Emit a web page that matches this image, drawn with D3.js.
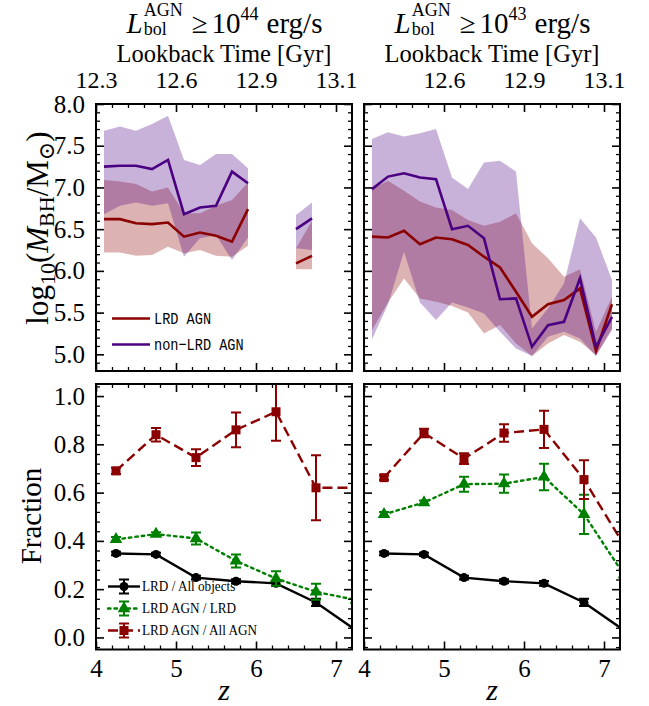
<!DOCTYPE html>
<html>
<head>
<meta charset="utf-8">
<script src="https://cdn.jsdelivr.net/npm/d3@7"></script>
<style>
  body { margin: 0; background: #fff; }
  svg text { font-family: "Liberation Serif", "Times New Roman", "DejaVu Serif", serif; fill: #000; }
  svg text.mono { font-family: "Liberation Mono", "DejaVu Sans Mono", monospace; }
</style>
</head>
<body>
<svg id="chart" width="649" height="706"></svg>
<script>
// ---------- black-hole mass panels: bin centres in redshift ----------
const zMass = [4.1, 4.3, 4.5, 4.7, 4.9, 5.1, 5.3, 5.5, 5.7, 5.9, 6.1, 6.3, 6.5, 6.7, 6.9, 7.1];

// L_bol >= 1e44 erg/s : median and 16-84 percentile range of log10 M_BH
const lrdMed44 = [6.62, 6.62, 6.57, 6.56, 6.58, 6.41, 6.46, 6.42, 6.35, 6.74, null, null, 6.09, 6.18, null, null];
const lrdHi44  = [7.09, 7.07, 7.04, 6.95, 7.00, 6.69, 6.69, 6.78, 6.85, 7.06, null, null, 6.27, 6.60, null, null];
const lrdLo44  = [6.22, 6.22, 6.18, 6.19, 6.29, 6.21, 6.25, 6.18, 6.17, 6.30, null, null, 6.02, 6.02, null, null];
const nonMed44 = [7.25, 7.26, 7.26, 7.22, 7.33, 6.68, 6.76, 6.78, 7.19, 7.05, null, null, 6.50, 6.63, null, null];
const nonHi44  = [7.68, 7.73, 7.68, 7.76, 7.86, 7.33, 7.27, 7.40, 7.40, 7.23, null, null, 6.67, 6.82, null, null];
const nonLo44  = [6.68, 6.78, 6.82, 6.78, 6.81, 6.17, 6.39, 6.43, 6.13, 6.40, null, null, 6.27, 6.25, null, null];

// L_bol >= 1e43 erg/s
const lrdMed43 = [6.41, 6.40, 6.48, 6.32, 6.40, 6.38, 6.31, 6.17, 6.04, 5.75, 5.45, 5.60, 5.65, 5.79, 5.04, 5.60];
const lrdHi43  = [6.98, 7.08, 6.96, 6.83, 6.76, 6.73, 6.61, 6.54, 6.59, 6.69, 6.33, 6.15, 5.93, 6.02, 5.27, 5.69];
const lrdLo43  = [5.29, 5.62, 5.91, 5.67, 5.63, 5.58, 5.50, 5.25, 5.35, 5.13, 4.98, 5.13, 5.23, 5.15, 4.99, 5.31];
const nonMed43 = [6.98, 7.13, 7.17, 7.12, 7.10, 6.50, 6.54, 6.39, 5.66, 5.67, 5.09, 5.35, 5.39, 5.91, 5.09, 5.45];
const nonHi43  = [7.58, 7.66, 7.61, 7.65, 7.70, 7.12, 6.98, 7.30, 7.32, 7.19, 5.31, 5.55, 5.85, 6.63, 6.40, 5.89];
const nonLo43  = [5.18, 5.60, 6.23, 5.62, 5.41, 5.62, 5.56, 5.49, 5.27, 5.07, 4.98, 5.21, 5.27, 5.19, 4.98, 5.29];

// ---------- fraction panels ----------
const zFrac = [4.25, 4.75, 5.25, 5.75, 6.25, 6.75, 7.25];
const fracLrdAll    = [0.348, 0.344, 0.248, 0.233, 0.224, 0.145, 0.03];
const fracLrdAllErr = [0.007, 0.007, 0.008, 0.008, 0.010, 0.015, 0.01];
const fracAgnLrd44    = [0.406, 0.428, 0.410, 0.317, 0.244, 0.189, 0.155];
const fracAgnLrd44Err = [0.010, 0.008, 0.025, 0.027, 0.030, 0.033, 0.03];
const fracAgnAll44    = [0.690, 0.840, 0.745, 0.860, 0.935, 0.620, 0.620];
const fracAgnAll44Err = [0.013, 0.028, 0.035, 0.072, 0.120, 0.135, 0.10];
const fracAgnLrd43    = [0.510, 0.559, 0.635, 0.637, 0.665, 0.510, 0.260];
const fracAgnLrd43Err = [0.010, 0.008, 0.031, 0.038, 0.055, 0.081, 0.05];
const fracAgnAll43    = [0.662, 0.847, 0.741, 0.847, 0.862, 0.654, 0.383];
const fracAgnAll43Err = [0.010, 0.018, 0.022, 0.036, 0.077, 0.080, 0.06];

// ---------- axis tick values and labels ----------
const zMajor = [4, 5, 6, 7];
const lookbackLabels = ["12.3", "12.6", "12.9", "13.1"];
const massMajor = [5.0, 5.5, 6.0, 6.5, 7.0, 7.5, 8.0];
const fracMajor = [0.0, 0.2, 0.4, 0.6, 0.8, 1.0];
const titleExponents = ["44", "43"];

// ---------- colours ----------
const cLrd = "#8b0000", cNon = "#4b0082", cGreen = "#008000";

// ---------- layout ----------
const svg = d3.select("#chart");
const PW = 256;
const colX = [96, 364];
const topY = 104, topH = 267;
const botY = 384, botH = 265.5;

const x = d3.scaleLinear().domain([4, 7.2]).range([0, PW]);
const yMass = d3.scaleLinear().domain([4.8, 8.0]).range([topH, 0]);
const yFrac = d3.scaleLinear().domain([-0.05, 1.05]).range([botH, 0]);

const zMinor = d3.range(21, 36).filter(i => i % 5 !== 0).map(i => i * 0.2);
const massMinor = d3.range(49, 80).filter(i => i % 5 !== 0).map(i => i * 0.1);
const fracMinor = d3.range(-1, 27).filter(i => i % 5 !== 0).map(i => i * 0.04);

function tickAxis(g, axis, tr, vals, size, fmt, pad, fs) {
  const a = g.append("g").attr("transform", tr)
    .call(axis.tickValues(vals).tickSizeInner(-size).tickSizeOuter(0)
      .tickPadding(pad || 8).tickFormat(fmt || (() => "")));
  a.select(".domain").remove();
  a.attr("font-size", null).attr("font-family", null);
  a.selectAll("line").attr("stroke", "#000").attr("stroke-width", size > 5 ? 1.6 : 1.3);
  a.selectAll("text").attr("font-size", fs || 25);
  return a;
}

function frame(g, h, y, yMaj, yMin, opts) {
  const f1 = d3.format(".1f");
  // bottom
  tickAxis(g, d3.axisBottom(x), `translate(0,${h})`, zMajor, 8, opts.xLabels ? d3.format("d") : null, 10);
  tickAxis(g, d3.axisBottom(x), `translate(0,${h})`, zMinor, 4);
  // top (lookback time)
  const topFmt = opts.topLabels ? ((d, i) => opts.topLabels[i]) : null;
  tickAxis(g, d3.axisTop(x), "translate(0,0)", zMajor, 8, topFmt, 16, 24);
  tickAxis(g, d3.axisTop(x), "translate(0,0)", zMinor, 4);
  // left
  tickAxis(g, d3.axisLeft(y), "translate(0,0)", yMaj, 8, opts.yLabels ? f1 : null, 11);
  tickAxis(g, d3.axisLeft(y), "translate(0,0)", yMin, 4);
  // right
  tickAxis(g, d3.axisRight(y), `translate(${PW},0)`, yMaj, 8);
  tickAxis(g, d3.axisRight(y), `translate(${PW},0)`, yMin, 4);
  g.append("rect").attr("width", PW).attr("height", h)
    .attr("fill", "none").attr("stroke", "#000").attr("stroke-width", 2);
}

function clipFor(id, h) {
  svg.append("clipPath").attr("id", id).append("rect").attr("width", PW).attr("height", h);
  return `url(#${id})`;
}

// ---------- mass panels ----------
function massPanel(col, med1, hi1, lo1, med2, hi2, lo2) {
  const g = svg.append("g").attr("transform", `translate(${colX[col]},${topY})`);
  const plot = g.append("g").attr("clip-path", clipFor("cm" + col, topH));
  const rows = (med, hi, lo) => zMass.map((z, i) => ({ z, m: med[i], hi: hi[i], lo: lo[i] }));
  const area = d3.area().defined(d => d.hi != null)
    .x(d => x(d.z)).y0(d => yMass(d.lo)).y1(d => yMass(d.hi));
  const line = d3.line().defined(d => d.m != null).x(d => x(d.z)).y(d => yMass(d.m));
  const a = rows(med1, hi1, lo1), b = rows(med2, hi2, lo2);
  plot.append("path").attr("d", area(a)).attr("fill", cLrd).attr("fill-opacity", 0.3);
  plot.append("path").attr("d", area(b)).attr("fill", cNon).attr("fill-opacity", 0.3);
  plot.append("path").attr("d", line(a)).attr("fill", "none").attr("stroke", cLrd).attr("stroke-width", 2.6);
  plot.append("path").attr("d", line(b)).attr("fill", "none").attr("stroke", cNon).attr("stroke-width", 2.6);
  frame(g, topH, yMass, massMajor, massMinor, {
    yLabels: col === 0,
    topLabels: col === 0 ? lookbackLabels : ["", ...lookbackLabels.slice(1)]
  });
  return g;
}

massPanel(0, lrdMed44, lrdHi44, lrdLo44, nonMed44, nonHi44, nonLo44);
massPanel(1, lrdMed43, lrdHi43, lrdLo43, nonMed43, nonHi43, nonLo43);

// legend of the mass panels
[["LRD AGN", cLrd, 318.5], ["non\u2212LRD AGN", cNon, 344.5]].forEach(([lab, c, yy]) => {
  svg.append("line").attr("x1", 112).attr("x2", 150).attr("y1", yy).attr("y2", yy)
    .attr("stroke", c).attr("stroke-width", 2.6);
  svg.append("text").attr("class", "mono")
    .attr("transform", `translate(154,${yy + 5.5}) scale(0.8,1)`)
    .attr("font-size", 17).text(lab);
});

// ---------- fraction panels ----------
function marker(sel, kind, c) {
  if (kind === "circle") sel.append("circle").attr("r", 4.5).attr("fill", c);
  else if (kind === "square") sel.append("rect").attr("x", -4.5).attr("y", -4.5).attr("width", 9).attr("height", 9).attr("fill", c);
  else sel.append("path").attr("d", d3.symbol(d3.symbolTriangle, 70)()).attr("fill", c);
}

function series(plot, vals, errs, c, dash, kind) {
  const pts = zFrac.map((z, i) => ({ z, v: vals[i], e: errs[i] }));
  plot.append("path").attr("d", d3.line().x(d => x(d.z)).y(d => yFrac(d.v))(pts))
    .attr("fill", "none").attr("stroke", c).attr("stroke-width", 2.4)
    .attr("stroke-dasharray", dash).attr("stroke-linecap", dash === "2.5,4" ? "round" : "butt");
  const eb = plot.append("g").selectAll("g").data(pts).join("g");
  eb.append("line").attr("x1", d => x(d.z)).attr("x2", d => x(d.z))
    .attr("y1", d => yFrac(d.v - d.e)).attr("y2", d => yFrac(d.v + d.e))
    .attr("stroke", c).attr("stroke-width", 2);
  [-1, 1].forEach(s => eb.append("line")
    .attr("x1", d => x(d.z) - 5).attr("x2", d => x(d.z) + 5)
    .attr("y1", d => yFrac(d.v + s * d.e)).attr("y2", d => yFrac(d.v + s * d.e))
    .attr("stroke", c).attr("stroke-width", 2));
  eb.append("g").attr("transform", d => `translate(${x(d.z)},${yFrac(d.v)})`)
    .each(function () { marker(d3.select(this), kind, c); });
}

function fracPanel(col, agnLrd, agnLrdErr, agnAll, agnAllErr) {
  const g = svg.append("g").attr("transform", `translate(${colX[col]},${botY})`);
  const plot = g.append("g").attr("clip-path", clipFor("cf" + col, botH));
  series(plot, fracLrdAll, fracLrdAllErr, "#000", null, "circle");
  series(plot, agnLrd, agnLrdErr, cGreen, "2.5,4", "triangle");
  series(plot, agnAll, agnAllErr, cLrd, "10,5", "square");
  frame(g, botH, yFrac, fracMajor, fracMinor, { yLabels: col === 0, xLabels: true });
}

fracPanel(0, fracAgnLrd44, fracAgnLrd44Err, fracAgnAll44, fracAgnAll44Err);
fracPanel(1, fracAgnLrd43, fracAgnLrd43Err, fracAgnAll43, fracAgnAll43Err);

// legend of the fraction panels
[["LRD / All objects", "#000", null, "circle", 586.5],
 ["LRD AGN / LRD", cGreen, "2.5,4", "triangle", 608.5],
 ["LRD AGN / All AGN", cLrd, "10,5", "square", 630.5]].forEach(([lab, c, dash, kind, yy]) => {
  const lg = svg.append("g");
  lg.append("line").attr("x1", 108).attr("x2", 140).attr("y1", yy).attr("y2", yy)
    .attr("stroke", c).attr("stroke-width", 2.4).attr("stroke-dasharray", dash)
    .attr("stroke-linecap", dash === "2.5,4" ? "round" : "butt");
  lg.append("line").attr("x1", 124).attr("x2", 124).attr("y1", yy - 7).attr("y2", yy + 7)
    .attr("stroke", c).attr("stroke-width", 2);
  [-7, 7].forEach(o => lg.append("line").attr("x1", 119).attr("x2", 129)
    .attr("y1", yy + o).attr("y2", yy + o).attr("stroke", c).attr("stroke-width", 2));
  marker(lg.append("g").attr("transform", `translate(124,${yy})`), kind, c);
  lg.append("text").attr("transform", `translate(142,${yy + 4.5}) scale(0.88,1)`)
    .attr("font-size", 15).text(lab);
});

// ---------- titles and axis labels ----------
function title(cx, exp) {
  const g = svg.append("g");
  const L = g.append("text").attr("font-size", 29).attr("font-style", "italic").text("L");
  let px = L.node().getComputedTextLength() + 1;
  const sup = g.append("text").attr("x", px).attr("y", -17.5).attr("font-size", 18).text("AGN");
  const sub = g.append("text").attr("x", px).attr("y", 2).attr("font-size", 18).text("bol");
  px += Math.max(sup.node().getComputedTextLength(), sub.node().getComputedTextLength()) + 9;
  const ge = g.append("text").attr("x", px).attr("font-size", 29).text("\u2265");
  px += ge.node().getComputedTextLength() + 4;
  const ten = g.append("text").attr("x", px).attr("font-size", 29).text("10");
  px += ten.node().getComputedTextLength();
  const e = g.append("text").attr("x", px).attr("y", -13).attr("font-size", 18).text(exp);
  px += e.node().getComputedTextLength() + 8;
  g.append("text").attr("x", px).attr("font-size", 29).text("erg/s");
  const bb = g.node().getBBox();
  g.attr("transform", `translate(${cx - bb.x - bb.width / 2},33)`);
}

colX.forEach((x0, i) => {
  const cx = x0 + PW / 2;
  title(cx, titleExponents[i]);
  svg.append("text").attr("x", cx).attr("y", 61.5).attr("text-anchor", "middle")
    .attr("font-size", 24.5).text("Lookback Time [Gyr]");
  svg.append("text").attr("x", cx).attr("y", 700).attr("text-anchor", "middle")
    .attr("font-size", 30).attr("font-style", "italic").text("z");
});

// y label of the mass panels
const yl = svg.append("text").attr("transform", "translate(48,228) rotate(-90)")
  .attr("text-anchor", "middle").attr("font-size", 31);
yl.append("tspan").text("log");
yl.append("tspan").attr("dy", 7).attr("font-size", 22).text("10");
yl.append("tspan").attr("dy", -7).text("(");
yl.append("tspan").attr("font-style", "italic").text("M");
yl.append("tspan").attr("dy", 6).attr("font-size", 22).text("BH");
yl.append("tspan").attr("dy", -6).text("/M");
yl.append("tspan").attr("dy", 6).attr("font-size", 22).text("\u2299");
yl.append("tspan").attr("dy", -6).text(")");

svg.append("text").attr("transform", "translate(41,516) rotate(-90)")
  .attr("text-anchor", "middle").attr("font-size", 29).text("Fraction");
</script>
</body>
</html>
